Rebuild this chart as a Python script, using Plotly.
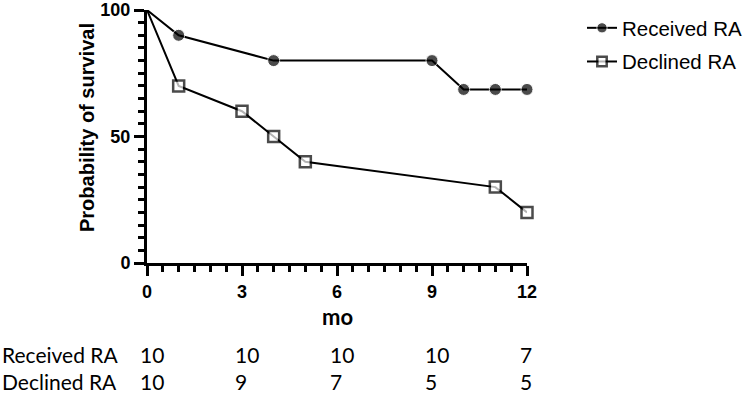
import plotly.graph_objects as go

# ---- data ----
received_t = [0, 1, 4, 9, 10, 11, 12]
received_s = [100, 90, 80, 80, 68.6, 68.6, 68.6]
declined_t = [0, 1, 3, 4, 5, 11, 12]
declined_s = [100, 70, 60, 50, 40, 30, 20]

series_names = ["Received RA", "Declined RA"]
risk_times = [0, 3, 6, 9, 12]
risk_received = [10, 10, 10, 10, 7]
risk_declined = [10, 9, 7, 5, 5]

x_ticks = [0, 3, 6, 9, 12]
y_ticks = [0, 50, 100]

# ---- layout geometry ----
W, H = 750, 393
L, R, T, B = 147, 223, 10, 130
PW, PH = W - L - R, H - T - B


def px2x(px):
    return (px - L) / PW


def py2y(py):
    return (H - B - py) / PH


fig = go.Figure()

fig.add_trace(go.Scatter(
    x=received_t, y=received_s, name=series_names[0],
    mode="lines+markers", cliponaxis=False,
    line=dict(color="black", width=2),
    marker=dict(symbol="circle", color="black",
                size=[0 if t == 0 else 12 for t in received_t]),
    legendgroup="a",
))
fig.add_trace(go.Scatter(
    x=declined_t, y=declined_s, name=series_names[1],
    mode="lines+markers", cliponaxis=False,
    line=dict(color="black", width=2),
    marker=dict(symbol="square", color="white",
                size=[0 if t == 0 else 11 for t in declined_t],
                line=dict(color="black", width=2.5)),
    legendgroup="b",
))

tick_font = dict(family="Arial", size=18, color="black")

fig.update_xaxes(
    range=[0, 12], tickvals=x_ticks, ticktext=["<b>%d</b>" % v for v in x_ticks],
    showline=True, linewidth=3, linecolor="black",
    ticks="outside", ticklen=10, tickwidth=3, tickcolor="black",
    minor=dict(dtick=0.5, ticks="outside", ticklen=6, tickwidth=3, tickcolor="black"),
    showgrid=False, zeroline=False, tickfont=tick_font, automargin=False,
)
fig.update_yaxes(
    range=[0, 100], tickvals=y_ticks, ticktext=["<b>%d</b>" % v for v in y_ticks],
    showline=True, linewidth=3, linecolor="black",
    ticks="outside", ticklen=10, tickwidth=3, tickcolor="black",
    minor=dict(dtick=5, ticks="outside", ticklen=6, tickwidth=3, tickcolor="black"),
    showgrid=False, zeroline=False, tickfont=tick_font, automargin=False,
)

annotations = []
# y title
annotations.append(dict(
    text="<b>Probability of survival</b>", textangle=-90,
    xref="paper", yref="paper", x=px2x(87), y=py2y(128),
    xanchor="center", yanchor="middle", showarrow=False,
    font=dict(family="Arial", size=20, color="black"),
))
# x title
annotations.append(dict(
    text="<b>mo</b>", xref="paper", yref="paper", x=0.5, y=py2y(316),
    xanchor="center", yanchor="middle", showarrow=False,
    font=dict(family="Lato", size=22, color="black"),
))
# number-at-risk table
table_font = dict(family="Lato", size=21, color="black")
row_y = [py2y(354), py2y(381)]
for name, vals, yy in zip(series_names, [risk_received, risk_declined], row_y):
    annotations.append(dict(
        text=name, xref="paper", yref="paper", x=px2x(0), y=yy,
        xanchor="left", yanchor="middle", showarrow=False, font=table_font,
    ))
    for t, v in zip(risk_times, vals):
        annotations.append(dict(
            text=str(v), xref="x", yref="paper", x=t, y=yy, xshift=-9,
            xanchor="left", yanchor="middle", showarrow=False, font=table_font,
        ))

fig.update_layout(
    width=W, height=H,
    margin=dict(l=L, r=R, t=T, b=B, autoexpand=False),
    plot_bgcolor="white", paper_bgcolor="white",
    showlegend=True,
    legend=dict(
        x=px2x(582), y=py2y(8), xanchor="left", yanchor="top",
        font=dict(family="Arial", size=20.5, color="black"),
        tracegroupgap=4, bgcolor="rgba(0,0,0,0)",
    ),
    annotations=annotations,
)

fig.write_html(
    "out.html",
    config={"displayModeBar": False},
    post_script="document.body.style.margin='0px';document.body.style.overflow='hidden';",
)
